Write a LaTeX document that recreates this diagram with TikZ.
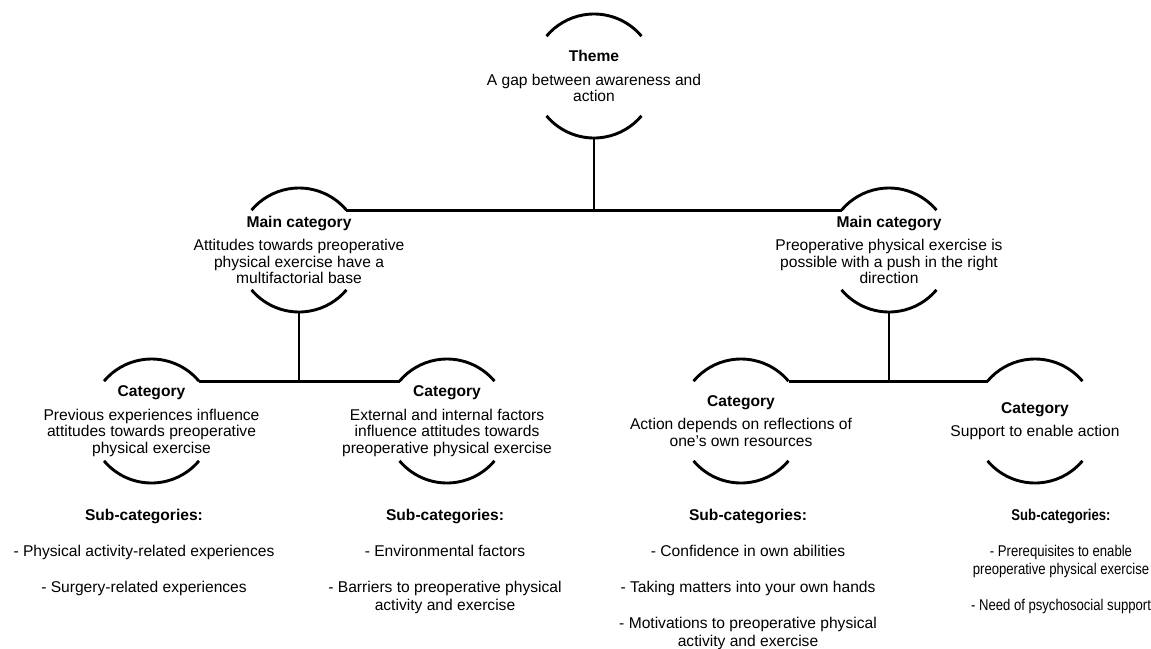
\documentclass[tikz,border=0pt]{standalone}
\usepackage{fontspec}
\setmainfont{Liberation Sans}

\begin{document}
\begin{tikzpicture}[x=1pt,y=1pt,
	ring/.style={circle,minimum size=124pt,inner sep=0pt,outer sep=0pt},
	rim/.style={line width=2.9pt},
	joint/.style={line width=2.9pt},
	ringtext/.style={align=center,inner sep=0pt,font=\fontsize{15.6}{16.5}\selectfont},
	sublist/.style={align=center,anchor=north,inner sep=0pt,font=\fontsize{15.6}{18}\selectfont}]
	\useasboundingbox (0,0) rectangle (1151,-648);
	% theme
	\node[ring] (theme) at (594,-76) {};
	\node[ringtext] (themetext) at (theme) {\textbf{Theme}\\[7pt]A gap between awareness and\\action};
	\draw[rim] (theme.40) arc (40:140:62pt);
	\draw[rim] (theme.220) arc (220:320:62pt);
	% main categories
	\node[ring] (mainL) at (299,-250) {};
	\node[ringtext] (mainLtext) at (mainL) {\textbf{Main category}\\[7pt]Attitudes towards preoperative\\physical exercise have a\\multifactorial base};
	\draw[rim] (mainL.40) arc (40:140:62pt);
	\draw[rim] (mainL.220) arc (220:320:62pt);
	\node[ring] (mainR) at (889,-250) {};
	\node[ringtext] (mainRtext) at (mainR) {\textbf{Main category}\\[7pt]Preoperative physical exercise is\\possible with a push in the right\\direction};
	\draw[rim] (mainR.40) arc (40:140:62pt);
	\draw[rim] (mainR.220) arc (220:320:62pt);
	% categories
	\node[ring] (catA) at (151.5,-421) {};
	\node[ringtext] (catAtext) at (catA) {\textbf{Category}\\[7pt]Previous experiences influence\\attitudes towards preoperative\\physical exercise};
	\draw[rim] (catA.40) arc (40:140:62pt);
	\draw[rim] (catA.220) arc (220:320:62pt);
	\node[ring] (catB) at (447,-421) {};
	\node[ringtext] (catBtext) at (catB) {\textbf{Category}\\[7pt]External and internal factors\\influence attitudes towards\\preoperative physical exercise};
	\draw[rim] (catB.40) arc (40:140:62pt);
	\draw[rim] (catB.220) arc (220:320:62pt);
	\node[ring] (catC) at (741,-421) {};
	\node[ringtext] (catCtext) at (catC) {\textbf{Category}\\[7pt]Action depends on reflections of\\one’s own resources};
	\draw[rim] (catC.40) arc (40:140:62pt);
	\draw[rim] (catC.220) arc (220:320:62pt);
	\node[ring] (catD) at (1035,-421) {};
	\node[ringtext] (catDtext) at (catD) {\textbf{Category}\\[7pt]Support to enable action};
	\draw[rim] (catD.40) arc (40:140:62pt);
	\draw[rim] (catD.220) arc (220:320:62pt);
	% connectors
	\coordinate (topjoin) at (theme.south |- mainL.40);
	\coordinate (leftjoin) at (mainL.south |- catA.40);
	\coordinate (rightjoin) at (mainR.south |- catC.40);
	\draw[joint] (mainL.40) -- (mainR.140);
	\draw[joint] (theme.south) -- (topjoin);
	\draw[joint] (catA.40) -- (catB.140);
	\draw[joint] (mainL.south) -- (leftjoin);
	\draw[joint] (catC.40) -- (catD.140);
	\draw[joint] (mainR.south) -- (rightjoin);
	% sub-categories
	\node[sublist] (subA) at (144,-509) {\textbf{Sub-categories:}\\[18pt]- Physical activity-related experiences\\[18pt]- Surgery-related experiences};
	\node[sublist] (subB) at (445,-509) {\textbf{Sub-categories:}\\[18pt]- Environmental factors\\[18pt]- Barriers to preoperative physical\\activity and exercise};
	\node[sublist] (subC) at (748,-509) {\textbf{Sub-categories:}\\[18pt]- Confidence in own abilities\\[18pt]- Taking matters into your own hands\\[18pt]- Motivations to preoperative physical\\activity and exercise};
	\begin{scope}[xshift=1061pt,xscale=0.84]
	\node[sublist,transform shape] (subD) at (0,-509) {\textbf{Sub-categories:}\\[18pt]- Prerequisites to enable\\preoperative physical exercise\\[18pt]- Need of psychosocial support};
	\end{scope}
\end{tikzpicture}
\end{document}
